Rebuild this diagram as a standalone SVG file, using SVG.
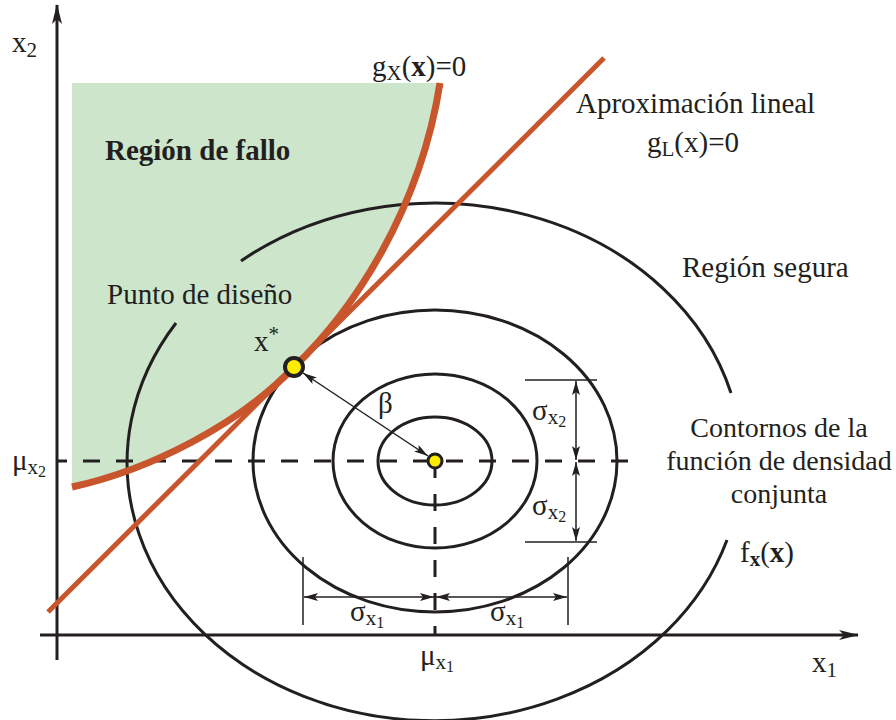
<svg xmlns="http://www.w3.org/2000/svg" width="896" height="720" viewBox="0 0 896 720">
<style>
text{font-family:"Liberation Serif","Times New Roman",serif;fill:#231f20;font-size:29px}
.sub{font-size:21px}
.sub2{font-size:16px}
.b{font-weight:bold}
.c{font-size:28px}
.k{fill:none;stroke:#231f20;stroke-width:3}
.thin{fill:none;stroke:#231f20;stroke-width:1.5}
.dash{fill:none;stroke:#231f20;stroke-width:3;stroke-dasharray:17 16}
.red{fill:none;stroke:#c8552b;stroke-linecap:butt}
</style>
<defs>
<marker id="ax" viewBox="0 0 20 10" refX="19" refY="5" markerWidth="20" markerHeight="10" markerUnits="userSpaceOnUse" orient="auto">
<path d="M0,0 L20,5 L0,10 L5,5 Z" fill="#231f20"/>
</marker>
<marker id="dim" viewBox="0 0 14 8" refX="14" refY="4" markerWidth="14" markerHeight="8" markerUnits="userSpaceOnUse" orient="auto-start-reverse">
<path d="M0,0 L14,4 L0,8 L3,4 Z" fill="#231f20"/>
</marker>
</defs>
<g id="failure-region">
<path d="M72,83 L440,83 C420,210 354,310 294,367 C240,424 150,470 72,487 Z" fill="#cce5cb"/>
</g>
<g id="axes">
<line x1="57" y1="660" x2="57" y2="5" class="k" stroke-width="2.5" marker-end="url(#ax)"/>
<line x1="40" y1="635" x2="858" y2="635" class="k" stroke-width="2.5" marker-end="url(#ax)"/>
</g>
<g id="contours">
<ellipse cx="435" cy="461" rx="57" ry="44" class="k"/>
<ellipse cx="435" cy="461" rx="102" ry="87" class="k"/>
<ellipse cx="435" cy="461" rx="182" ry="151" class="k"/>
<path d="M241,261 A307,258 0 0,1 731,393" class="k"/>
<path d="M727,540 A307,258 0 1,1 176,323" class="k"/>
</g>
<g id="mean-lines">
<line x1="628" y1="461" x2="57" y2="461" class="dash"/>
<line x1="435" y1="461" x2="435" y2="635" class="dash"/>
</g>
<g id="limit-state">
<path d="M440,83 C420,210 354,310 294,367 C240,424 150,470 72,487" class="red" stroke-width="7"/>
</g>
<g id="linear-approx">
<line x1="48" y1="612" x2="604" y2="58" class="red" stroke-width="5"/>
</g>
<g id="connectors">
<line x1="303" y1="373" x2="428" y2="456" class="thin" marker-start="url(#dim)" marker-end="url(#dim)"/>
<line x1="525" y1="380" x2="597" y2="380" class="thin"/>
<line x1="525" y1="542" x2="597" y2="542" class="thin"/>
<line x1="576" y1="381" x2="576" y2="460" class="thin" marker-start="url(#dim)" marker-end="url(#dim)"/>
<line x1="576" y1="462" x2="576" y2="541" class="thin" marker-start="url(#dim)" marker-end="url(#dim)"/>
<line x1="303" y1="557" x2="303" y2="625" class="thin"/>
<line x1="568" y1="557" x2="568" y2="625" class="thin"/>
<line x1="304" y1="597" x2="434" y2="597" class="thin" marker-start="url(#dim)" marker-end="url(#dim)"/>
<line x1="436" y1="597" x2="567" y2="597" class="thin" marker-start="url(#dim)" marker-end="url(#dim)"/>
</g>
<g id="design-point">
<circle cx="294" cy="367" r="9" fill="#ffed00" stroke="#231f20" stroke-width="4"/>
</g>
<g id="mean-point">
<circle cx="435" cy="461" r="7" fill="#ffed00" stroke="#231f20" stroke-width="3"/>
</g>
<g id="labels">
<text x="12" y="52">x<tspan class="sub" dy="5">2</tspan></text>
<text x="372" y="76">g<tspan class="sub" dy="4">X</tspan><tspan dy="-4">(</tspan><tspan class="b">x</tspan>)=0</text>
<text x="576" y="113">Aproximación lineal</text>
<text x="647" y="152">g<tspan class="sub" dy="4">L</tspan><tspan dy="-4">(x)=0</tspan></text>
<text x="105" y="160" class="b">Región de fallo</text>
<text x="682" y="277">Región segura</text>
<text x="107" y="304">Punto de diseño</text>
<text x="254" y="351">x<tspan class="sub" dy="-10">*</tspan></text>
<text x="378" y="413">β</text>
<text x="779" y="437" text-anchor="middle" class="c">Contornos de la</text>
<text x="779" y="470" text-anchor="middle" class="c">función de densidad</text>
<text x="779" y="503" text-anchor="middle" class="c">conjunta</text>
<text x="740" y="562">f<tspan class="sub b" dy="4">x</tspan><tspan dy="-4">(</tspan><tspan class="b">x</tspan>)</text>
<text x="12" y="470">μ<tspan class="sub" dy="4">x</tspan><tspan class="sub2" dy="3">2</tspan></text>
<text x="420" y="665">μ<tspan class="sub" dy="4">x</tspan><tspan class="sub2" dy="3">1</tspan></text>
<text x="812" y="672">x<tspan class="sub" dy="5">1</tspan></text>
<text x="532" y="420">σ<tspan class="sub" dy="4">x</tspan><tspan class="sub2" dy="3">2</tspan></text>
<text x="532" y="515">σ<tspan class="sub" dy="4">x</tspan><tspan class="sub2" dy="3">2</tspan></text>
<text x="350" y="621">σ<tspan class="sub" dy="4">x</tspan><tspan class="sub2" dy="3">1</tspan></text>
<text x="490" y="621">σ<tspan class="sub" dy="4">x</tspan><tspan class="sub2" dy="3">1</tspan></text>
</g>
</svg>
